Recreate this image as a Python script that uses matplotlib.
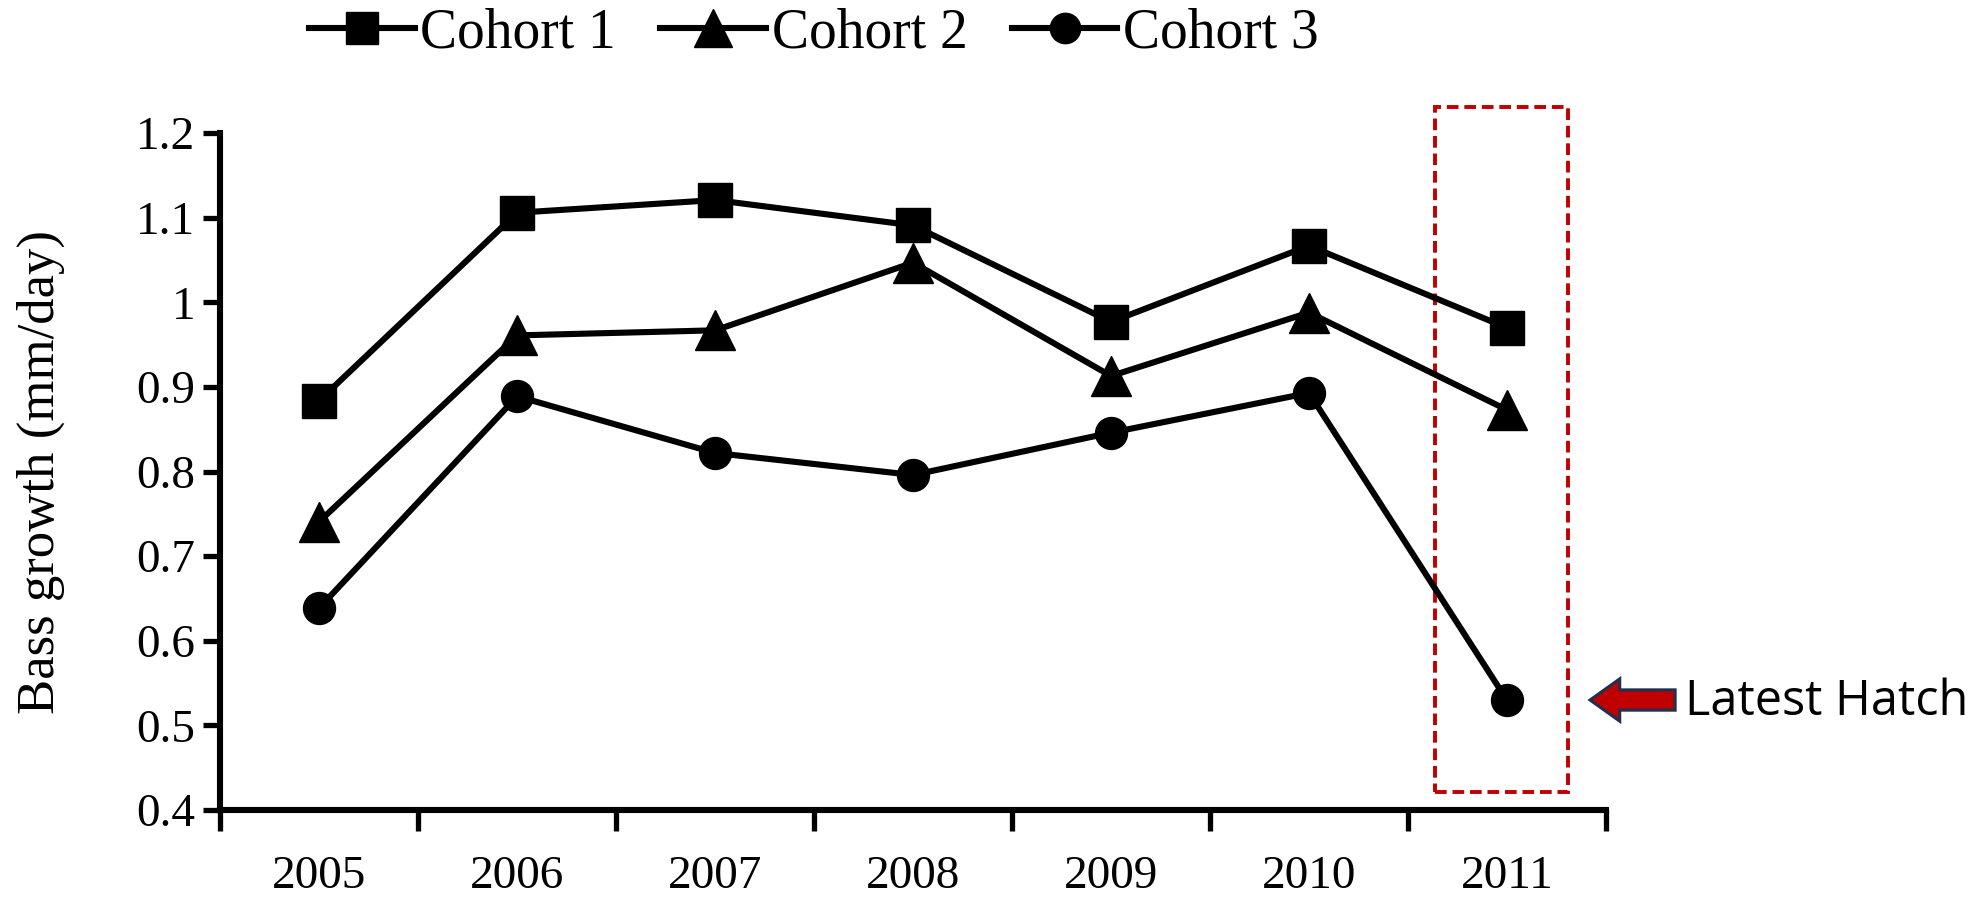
import numpy as np
import matplotlib
matplotlib.use('Agg')
import matplotlib.pyplot as plt
from matplotlib.patches import Rectangle, FancyArrow

years = ['2005', '2006', '2007', '2008', '2009', '2010', '2011']
cohort1 = [0.884, 1.106, 1.121, 1.091, 0.977, 1.067, 0.970]
cohort2 = [0.741, 0.961, 0.967, 1.047, 0.913, 0.988, 0.873]
cohort3 = [0.639, 0.889, 0.822, 0.796, 0.846, 0.893, 0.530]
y_ticks = [0.4, 0.5, 0.6, 0.7, 0.8, 0.9, 1.0, 1.1, 1.2]
y_labels = ['0.4', '0.5', '0.6', '0.7', '0.8', '0.9', '1', '1.1', '1.2']

plt.rcParams['font.family'] = ['Liberation Serif', 'DejaVu Serif']

fig = plt.figure(figsize=(19.85, 9), dpi=100)
ax = fig.add_axes([0.111, 0.10, 0.698, 0.752])

x = np.arange(len(years))
lw = 4.4
p1, = ax.plot(x, cohort1, color='black', lw=lw, marker='s', ms=24, label='Cohort 1', clip_on=False)
p2, = ax.plot(x, cohort2, color='black', lw=lw, marker='^', ms=29, label='Cohort 2', clip_on=False)
p3, = ax.plot(x, cohort3, color='black', lw=lw, marker='o', ms=23, label='Cohort 3', clip_on=False)

ax.set_xlim(-0.5, len(years) - 0.5)
ax.set_ylim(0.4, 1.2)

# category boundaries get the ticks, labels sit in between
ax.set_xticks(np.arange(-0.5, len(years), 1.0))
ax.set_xticklabels([])
ax.set_xticks(x, minor=True)
ax.set_xticklabels(years, minor=True)
ax.tick_params(axis='x', which='major', direction='out', length=15, width=3.8)
ax.tick_params(axis='x', which='minor', length=0, pad=33, labelsize=34)

ax.set_yticks(y_ticks)
ax.set_yticklabels(y_labels)
ax.tick_params(axis='y', direction='out', length=12, width=3.8, pad=6, labelsize=34)

for s in ['top', 'right']:
    ax.spines[s].set_visible(False)
for s in ['left', 'bottom']:
    ax.spines[s].set_linewidth(4.4)

ax.set_ylabel('Bass growth (mm/day)', fontsize=38)
ax.yaxis.set_label_coords(-0.112, 0.5)

fig.legend(handles=[p1, p2, p3], loc='center', bbox_to_anchor=(0.41, 0.963),
           ncol=3, frameon=False, fontsize=40, handlelength=1.9,
           handletextpad=0.1, columnspacing=0.8, markerscale=0.95)

# highlight box around the last year
box = Rectangle((5.637, 0.421), 6.31 - 5.637, 1.231 - 0.421, fill=False,
                edgecolor='#C00000', lw=2.8, ls=(0, (3, 1.5)), clip_on=False)
ax.add_patch(box)

arrow = FancyArrow(6.85, 0.53, -0.43, 0, width=0.024, head_width=0.05,
                   head_length=0.15, length_includes_head=True,
                   facecolor='#C00000', edgecolor='#1F3050', lw=2.2, clip_on=False)
ax.add_patch(arrow)
ax.text(6.90, 0.527, 'Latest Hatch', fontsize=35, family=['Open Sans', 'DejaVu Sans'],
        va='center', ha='left')

fig.savefig('out.png', dpi=100)
